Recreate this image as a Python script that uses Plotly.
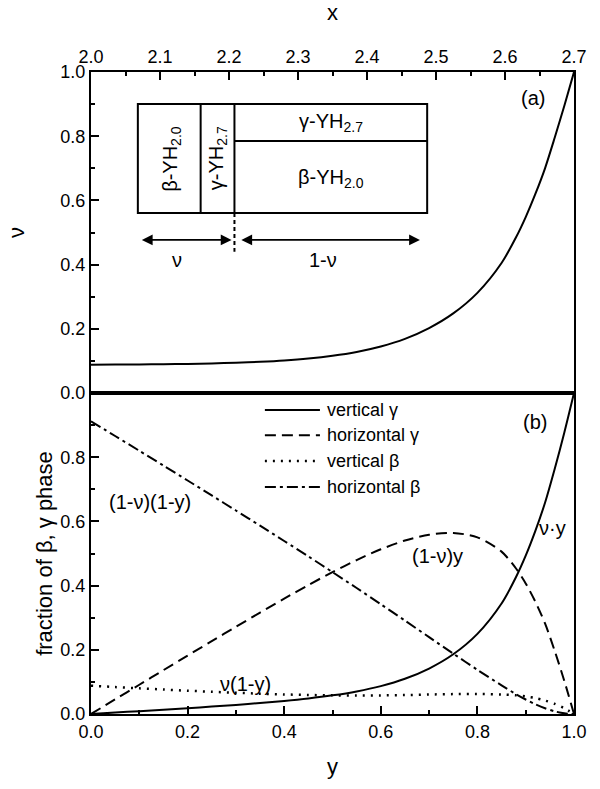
import plotly.graph_objects as go

# ---------------- data ----------------
y_frac = [0.0, 0.05, 0.10, 0.15, 0.20, 0.25, 0.30, 0.35, 0.40, 0.45, 0.50, 0.55,
          0.60, 0.65, 0.70, 0.75, 0.80, 0.85, 0.88, 0.90, 0.92, 0.94, 0.96, 0.98, 1.0]

nu = [0.088, 0.0884, 0.0889, 0.0897, 0.0907, 0.0922, 0.0944, 0.0974, 0.1016, 0.1076, 0.1161,
      0.1280, 0.1449, 0.1687, 0.2023, 0.248, 0.312, 0.405, 0.485, 0.548, 0.620, 0.700, 0.795,
      0.895, 1.0]

vertical_gamma = [0.0, 0.0044, 0.0089, 0.0135, 0.0181, 0.0231, 0.0283, 0.0341, 0.0406, 0.0484,
                  0.0581, 0.0704, 0.0869, 0.1097, 0.1416, 0.186, 0.2496, 0.3443, 0.4268, 0.4932,
                  0.5704, 0.658, 0.7632, 0.8771, 1.0]

horizontal_gamma = [0.0, 0.0456, 0.0911, 0.1366, 0.1819, 0.2270, 0.2717, 0.3159, 0.3594, 0.4016,
                    0.4420, 0.4796, 0.5131, 0.5404, 0.5584, 0.564, 0.5504, 0.5058, 0.4532, 0.4068,
                    0.3496, 0.282, 0.1968, 0.1029, 0.0]

vertical_beta = [0.088, 0.0840, 0.0800, 0.0763, 0.0726, 0.0692, 0.0661, 0.0633, 0.0610, 0.0592,
                 0.0581, 0.0576, 0.0580, 0.0590, 0.0607, 0.062, 0.0624, 0.0608, 0.0582, 0.0548,
                 0.0496, 0.042, 0.0318, 0.0179, 0.0]

horizontal_beta = [0.912, 0.8660, 0.8200, 0.7738, 0.7274, 0.6809, 0.6339, 0.5867, 0.5390, 0.4908,
                   0.4420, 0.3924, 0.3420, 0.2910, 0.2393, 0.188, 0.1376, 0.0893, 0.0618, 0.0452,
                   0.0304, 0.018, 0.0082, 0.0021, 0.0]

top_x_ticks = [2.0, 2.1, 2.2, 2.3, 2.4, 2.5, 2.6, 2.7]
top_x_minor = [2.05, 2.15, 2.25, 2.35, 2.45, 2.55, 2.65]
y_ticks = [0.0, 0.2, 0.4, 0.6, 0.8, 1.0]
y_minor = [0.1, 0.3, 0.5, 0.7, 0.9]
nu_ticks = [0.0, 0.2, 0.4, 0.6, 0.8, 1.0]
frac_ticks = [0.0, 0.2, 0.4, 0.6, 0.8]

legend_names = ["vertical γ", "horizontal γ", "vertical β", "horizontal β"]

# ---------------- figure ----------------
FONT = "Liberation Sans, Arial, sans-serif"
LW = 2

fig = go.Figure()

# panel (a)
fig.add_trace(go.Scatter(x=y_frac, y=nu, xaxis="x2", yaxis="y2", mode="lines",
                         line=dict(color="black", width=LW, shape="spline", smoothing=0.8),
                         showlegend=False, hoverinfo="skip"))
# invisible trace that carries the top axis (x)
fig.add_trace(go.Scatter(x=top_x_ticks, y=[None] * len(top_x_ticks), xaxis="x3", yaxis="y2",
                         mode="lines", showlegend=False, hoverinfo="skip"))

# panel (b)
dashes = ["solid", "11px,6px", "2px,6px", "11px,4px,3px,4px"]
series = [vertical_gamma, horizontal_gamma, vertical_beta, horizontal_beta]
for name, s, d in zip(legend_names, series, dashes):
    fig.add_trace(go.Scatter(x=y_frac, y=s, xaxis="x", yaxis="y", mode="lines", name=name,
                             line=dict(color="black", width=LW + (0.5 if d == "2px,6px" else 0),
                                       shape="spline", smoothing=0.8, dash=d),
                             showlegend=False, hoverinfo="skip"))

axis_common = dict(showline=True, linewidth=LW, linecolor="black", showgrid=False,
                   zeroline=False, ticks="inside", ticklen=8, tickwidth=LW, tickcolor="black",
                   tickfont=dict(size=18, family=FONT, color="black"))
minor_common = dict(ticks="inside", ticklen=4, tickwidth=LW, tickcolor="black")

fig.update_layout(
    width=600, height=789,
    margin=dict(l=91, r=26, t=72, b=75),
    plot_bgcolor="white", paper_bgcolor="white",
    font=dict(family=FONT, size=18, color="black"),
    showlegend=False,
    xaxis=dict(**axis_common, domain=[0, 1], anchor="y", range=[0, 1], mirror=True,
               tickvals=y_ticks, ticktext=[f"{v:.1f}" for v in y_ticks],
               minor=dict(tickvals=y_minor, **minor_common),
               title=dict(text="y", font=dict(size=22, family=FONT), standoff=18)),
    yaxis=dict(**axis_common, domain=[0, 0.5], anchor="x", range=[0, 1], mirror=True,
               tickvals=frac_ticks, ticktext=[f"{v:.1f}" for v in frac_ticks],
               minor=dict(tickvals=y_minor, **minor_common),
               title=dict(text="fraction of β, γ phase", font=dict(size=22, family=FONT),
                          standoff=2)),
    xaxis2=dict(showline=True, linewidth=LW, linecolor="black", showgrid=False, zeroline=False,
                domain=[0, 1], anchor="y2", range=[0, 1], showticklabels=False, ticks=""),
    yaxis2=dict(**axis_common, domain=[0.5, 1], anchor="x2", range=[0, 1], mirror=True,
                tickvals=nu_ticks, ticktext=[f"{v:.1f}" for v in nu_ticks],
                minor=dict(tickvals=y_minor, **minor_common),
                title=dict(text="ν", font=dict(size=22, family=FONT), standoff=30)),
    xaxis3=dict(**axis_common, overlaying="x2", side="top", anchor="y2", range=[2.0, 2.7],
                tickvals=top_x_ticks, ticktext=[f"{v:.1f}" for v in top_x_ticks],
                minor=dict(tickvals=top_x_minor, **minor_common),
                title=dict(text="x", font=dict(size=22, family=FONT), standoff=20)),
)

# ---------------- legend of panel (b), drawn as in the reference ----------------
leg_rows = [0.947, 0.868, 0.788, 0.707]
for name, d, ry in zip(legend_names, dashes, leg_rows):
    fig.add_shape(type="line", x0=0.360, x1=0.474, y0=ry, y1=ry, xref="x", yref="y",
                  line=dict(color="black", width=LW + (0.5 if d == "2px,6px" else 0), dash=d))
    fig.add_annotation(x=0.485, y=ry, xref="x", yref="y", text=name, showarrow=False,
                       xanchor="left", font=dict(size=18, family=FONT, color="black"))

# ---------------- inset diagram in panel (a) ----------------
box = dict(xref="x2", yref="y2", line=dict(color="black", width=2))
fig.add_shape(type="rect", x0=0.097, x1=0.696, y0=0.561, y1=0.900, **box)
fig.add_shape(type="line", x0=0.227, x1=0.227, y0=0.561, y1=0.900, **box)
fig.add_shape(type="line", x0=0.297, x1=0.297, y0=0.561, y1=0.900, **box)
fig.add_shape(type="line", x0=0.297, x1=0.696, y0=0.785, y1=0.785, **box)
fig.add_shape(type="line", x0=0.297, x1=0.297, y0=0.561, y1=0.440, xref="x2", yref="y2",
              line=dict(color="black", width=2, dash="4px,3px"))

for (xa, xb) in [(0.097, 0.291), (0.303, 0.681)]:
    fig.add_annotation(x=xb, y=0.477, ax=xa, ay=0.477, xref="x2", yref="y2", axref="x2",
                       ayref="y2", text=" ", showarrow=True, arrowhead=2, arrowsize=1.2,
                       arrowwidth=1.8, arrowside="end+start", arrowcolor="black")

ann_font = dict(size=20, family=FONT, color="black")
inset_labels = [
    (0.166, 0.730, "β-YH<sub>2.0</sub>", -90),
    (0.262, 0.730, "γ-YH<sub>2.7</sub>", -90),
    (0.497, 0.842, "γ-YH<sub>2.7</sub>", 0),
    (0.497, 0.668, "β-YH<sub>2.0</sub>", 0),
    (0.178, 0.415, "ν", 0),
    (0.480, 0.415, "1-ν", 0),
    (0.915, 0.920, "(a)", 0),
]
for x, y, t, ang in inset_labels:
    fig.add_annotation(x=x, y=y, xref="x2", yref="y2", text=t, showarrow=False,
                       textangle=ang, font=ann_font)

curve_labels = [
    (0.122, 0.660, "(1-ν)(1-y)"),
    (0.718, 0.492, "(1-ν)y"),
    (0.955, 0.580, "ν·y"),
    (0.320, 0.095, "ν(1-y)"),
    (0.919, 0.910, "(b)"),
]
for x, y, t in curve_labels:
    fig.add_annotation(x=x, y=y, xref="x", yref="y", text=t, showarrow=False, font=ann_font)

fig.write_html("out.html")
